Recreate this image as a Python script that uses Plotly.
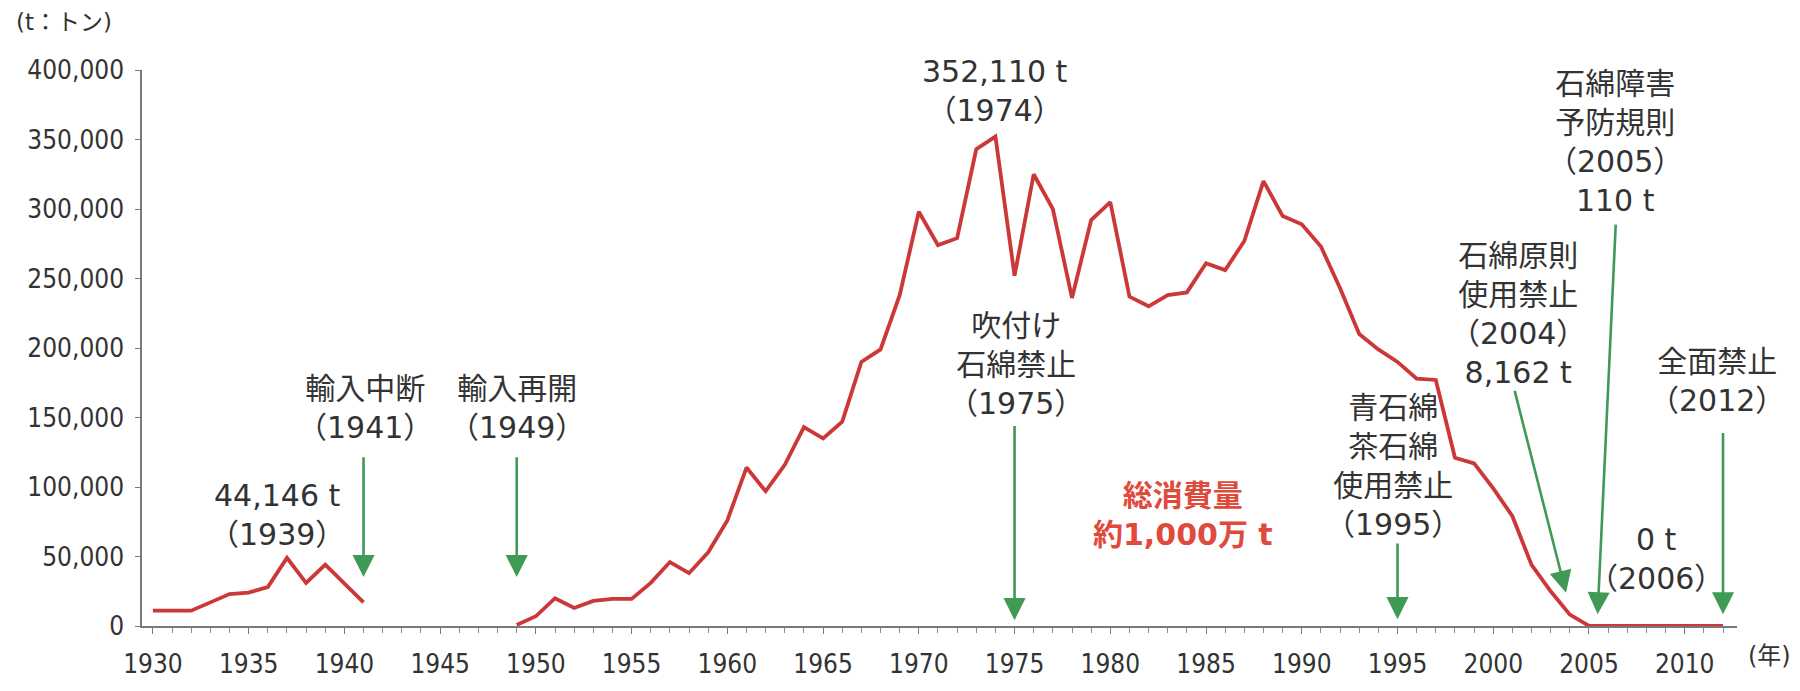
import plotly.graph_objects as go

# ---- data ----
years = list(range(1930, 2013))
consumption = [
    11000, 11000, 11000, 17000, 23000, 24000, 28000, 49000, 31000, 44146,  # 1930-1939
    31000, 17000, None, None, None, None, None, None, None, 800,           # 1940-1949
    7000, 20000, 13000, 18000, 19500, 19500, 31000, 46000, 38000, 53000,   # 1950-1959
    76000, 114000, 97000, 116000, 143000, 135000, 147000, 190000, 199000, 238000,  # 1960-1969
    298000, 274000, 279000, 343000, 352110, 252000, 325000, 300000, 236000, 292000,  # 1970-1979
    305000, 237000, 230000, 238000, 240000, 261000, 256000, 277000, 320000, 295000,  # 1980-1989
    289000, 273000, 243000, 210000, 199000, 190000, 178000, 177000, 121000, 117000,  # 1990-1999
    99000, 79000, 44000, 25000, 8162, 110, 0, 0, 0, 0,                     # 2000-2009
    0, 0, 0,                                                               # 2010-2012
]
y_ticks = [0, 50000, 100000, 150000, 200000, 250000, 300000, 350000, 400000]
x_ticks = list(range(1930, 2011, 5))

# text blocks: (text, year, value)
labels = [
    ("44,146 t<br>（1939）", 1936.5, 80200),
    ("輸入中断<br>（1941）", 1941.1, 156900),
    ("輸入再開<br>（1949）", 1949.0, 156900),
    ("352,110 t<br>（1974）", 1974.0, 384800),
    ("吹付け<br>石綿禁止<br>（1975）", 1975.1, 187800),
    ("青石綿<br>茶石綿<br>使用禁止<br>（1995）", 1994.75, 115400),
    ("石綿原則<br>使用禁止<br>（2004）<br>8,162 t", 2001.3, 224700),
    ("石綿障害<br>予防規則<br>（2005）<br>110 t", 2006.35, 348200),
    ("全面禁止<br>（2012）", 2011.7, 176200),
    ("0 t<br>（2006）", 2008.5, 48500),
]
total_label = ("<b>総消費量<br>約1,000万 t</b>", 1983.8, 80200)

# arrows: (tail_year, tail_value, tip_year, tip_value)
arrows = [
    (1941, 122400, 1941, 35200),
    (1949, 122400, 1949, 35200),
    (1975, 144900, 1975, 4200),
    (1995, 60500, 1995, 4900),
    (2001.1, 170200, 2003.8, 23900),
    (2006.4, 289800, 2005.45, 8400),
    (2012, 140000, 2012, 8400),
]

TEXT_FONT = "DejaVu Sans, Noto Sans CJK JP, sans-serif"
TICK_FONT = "DejaVu Sans Condensed, DejaVu Sans, sans-serif"
LINE_COLOR = "#cc3838"
ARROW_COLOR = "#3f9a55"

fig = go.Figure()
fig.add_trace(go.Scatter(
    x=years, y=consumption, mode="lines",
    line=dict(color=LINE_COLOR, width=3.8),
    connectgaps=False, hoverinfo="skip", showlegend=False,
))

annotations = []
for text, xv, yv in labels:
    annotations.append(dict(
        text=text, x=xv, y=yv, xref="x", yref="y", showarrow=False,
        xanchor="center", yanchor="middle", align="center",
        font=dict(family=TEXT_FONT, size=30, color="#333333"),
    ))
annotations.append(dict(
    text=total_label[0], x=total_label[1], y=total_label[2], xref="x", yref="y",
    showarrow=False, xanchor="center", yanchor="middle", align="center",
    font=dict(family=TEXT_FONT, size=30, color="#e04a3c"),
))
for tx, ty, hx, hy in arrows:
    annotations.append(dict(
        text="", x=hx, y=hy, ax=tx, ay=ty, xref="x", yref="y", axref="x", ayref="y",
        showarrow=True, arrowhead=2, arrowsize=1.7, arrowwidth=2.6,
        arrowcolor=ARROW_COLOR, standoff=0, startstandoff=0,
    ))
annotations.append(dict(
    text="(t：トン)", x=(14 - 142) / 1595, y=(639 - 21) / 569, xref="paper", yref="paper",
    showarrow=False, xanchor="left", yanchor="middle",
    font=dict(family=TEXT_FONT, size=23, color="#333333"),
))
annotations.append(dict(
    text="(年)", x=(1769 - 142) / 1595, y=(639 - 670) / 569, xref="paper", yref="paper",
    showarrow=False, xanchor="center", yanchor="middle",
    font=dict(family=TEXT_FONT, size=24, color="#333333"),
))

fig.update_layout(
    width=1800, height=691,
    margin=dict(l=142, r=63, t=70, b=52),
    paper_bgcolor="white", plot_bgcolor="white",
    annotations=annotations,
    xaxis=dict(
        range=[1929.43, 2012.73], tickmode="array", tickvals=x_ticks,
        ticktext=[str(v) for v in x_ticks],
        showgrid=False, zeroline=False, showline=True, linecolor="#7a7a7a", linewidth=1.5,
        ticks="outside", ticklen=6, tickwidth=1.2, tickcolor="#7a7a7a",
        minor=dict(dtick=1, ticks="outside", ticklen=5, tickwidth=1, tickcolor="#8a8a8a"),
        tickfont=dict(family=TICK_FONT, size=26, color="#333333"),
        ticklabelstandoff=8,
    ),
    yaxis=dict(
        range=[0, 400000], tickmode="array", tickvals=y_ticks,
        ticktext=[f"{v:,}" for v in y_ticks],
        showgrid=False, zeroline=False, showline=True, linecolor="#7a7a7a", linewidth=1.5,
        ticks="outside", ticklen=5, tickwidth=1.2, tickcolor="#7a7a7a",
        tickfont=dict(family=TICK_FONT, size=26, color="#333333"),
        ticklabelstandoff=6,
    ),
)

fig.write_html("out.html")
